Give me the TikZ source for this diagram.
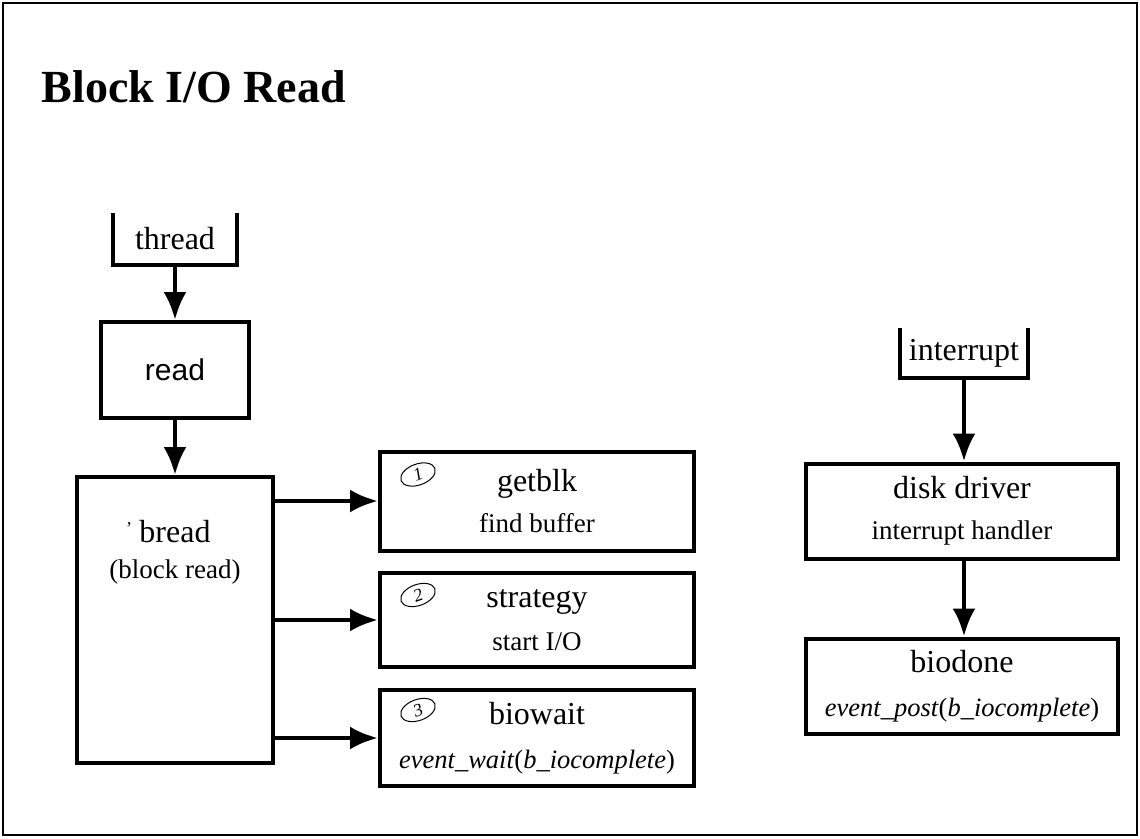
\documentclass[tikz,border=0pt]{standalone}
\usepackage{fontspec}
\setmainfont{Liberation Serif}
\newfontfamily\helvfont{Liberation Sans}
\usetikzlibrary{arrows.meta,shapes.geometric}
\newcommand{\mainlbl}{\fontsize{32}{36}\selectfont}
\newcommand{\sublbl}{\fontsize{27}{30}\selectfont}
\newcommand{\itlbl}{\fontsize{26.5}{30}\selectfont}
\tikzset{
  procbox/.style={draw,line width=4pt,inner sep=0pt,align=center},
  srcbox/.style={inner sep=0pt,align=center},
  flowarr/.style={line width=4.5pt,-{Latex[length=28pt,width=23pt]}},
  numring/.style={draw,ellipse,line width=1pt,inner sep=0.5pt,minimum width=36pt,minimum height=21pt,font=\fontsize{18}{18}\selectfont\itshape}
}
\begin{document}
\begin{tikzpicture}[x=1pt,y=-1pt]
\useasboundingbox (0,0) rectangle (1140,838);
\draw[line width=2.5pt] (3,3) rectangle (1137,835);
\node[anchor=base west] (title) at (38,102) {\fontsize{46}{46}\selectfont\bfseries Block I/O Read};
% left side: thread -> read -> bread
\node[srcbox,minimum width=124pt,minimum height=52pt] (thread) at (175,239) {\mainlbl thread};
\draw[line width=4pt] (thread.north west) -- (thread.south west) -- (thread.south east) -- (thread.north east);
\node[procbox,minimum width=148pt,minimum height=96pt,font=\helvfont\fontsize{30}{30}\selectfont] (read) at (175,370) {read};
\node[procbox,minimum width=196pt,minimum height=286pt] (bread) at (175,620) {};
\node[srcbox,anchor=north] (breadtxt) at ([yshift=-45pt]bread.north) {\mainlbl bread\\[16pt]\sublbl (block read)};
\node (breadtick) at (129,529) {\fontsize{18}{18}\selectfont '};
\draw[flowarr] (thread.south) -- (read.north);
\draw[flowarr] (read.south) -- (bread.north);
% called routines
\node[procbox,minimum width=314pt,minimum height=99pt] (getblk) at (537,501) {\mainlbl getblk\\[14pt]\sublbl find buffer};
\node[procbox,minimum width=314pt,minimum height=94pt] (strategy) at (537,620) {\mainlbl strategy\\[17pt]\sublbl start I/O};
\node[procbox,minimum width=314pt,minimum height=96pt] (biowait) at (537,738) {\mainlbl biowait\\[24pt]\itlbl\textit{event\_wait}(\textit{b\_iocomplete})};
\node[numring,rotate=20] (num1) at ([xshift=40pt,yshift=-25pt]getblk.north west) {1};
\node[numring,rotate=20] (num2) at ([xshift=40pt,yshift=-24pt]strategy.north west) {2};
\node[numring,rotate=20] (num3) at ([xshift=40pt,yshift=-22pt]biowait.north west) {3};
\draw[flowarr] (bread.east |- getblk.west) -- (getblk.west);
\draw[flowarr] (bread.east |- strategy.west) -- (strategy.west);
\draw[flowarr] (bread.east |- biowait.west) -- (biowait.west);
% right side: interrupt
\node[srcbox,minimum width=128pt,minimum height=50pt] (intr) at (964,353) {\mainlbl interrupt};
\draw[line width=4pt] (intr.north west) -- (intr.south west) -- (intr.south east) -- (intr.north east);
\node[procbox,minimum width=312pt,minimum height=95pt] (disk) at (962,511) {\mainlbl disk driver\\[21pt]\sublbl interrupt handler};
\node[procbox,minimum width=312pt,minimum height=95pt] (biodone) at (962,686) {\mainlbl biodone\\[24pt]\itlbl\textit{event\_post}(\textit{b\_iocomplete})};
\draw[flowarr] (intr.south) -- (intr.south |- disk.north);
\draw[flowarr] (intr.south |- disk.south) -- (intr.south |- biodone.north);
\end{tikzpicture}
\end{document}
